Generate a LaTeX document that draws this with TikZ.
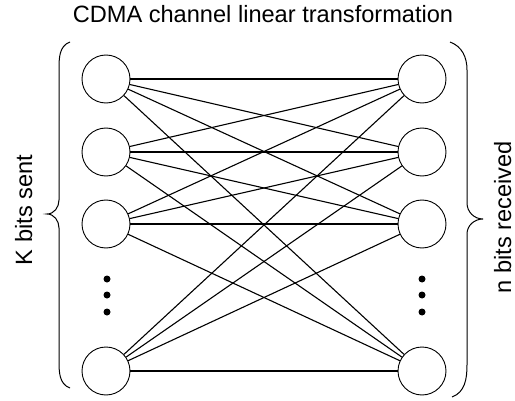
\documentclass[tikz,border=0pt]{standalone}
\usepackage{fontspec}
\setmainfont{Liberation Sans}
\begin{document}
\begin{tikzpicture}[x=1pt,y=1pt,
  bit/.style={circle,draw,line width=0.9pt,minimum size=48pt,inner sep=0pt},
  link/.style={line width=1.1pt},
  dotmark/.style={circle,fill,inner sep=0pt,minimum size=7pt},
  bracepath/.style={line width=1pt},
  lbl/.style={font=\fontsize{23.6}{28}\selectfont}]
\useasboundingbox (0,0) rectangle (515,400);
% nodes
\foreach \i/\y in {1/321,2/248,3/176,4/29} {
  \node[bit] (L\i) at (106,\y) {};
  \node[bit] (R\i) at (422,\y) {};
}
% connections
\foreach \i in {1,...,4} \foreach \j in {1,...,4} \draw[link] (L\i) -- (R\j);
% vertical ellipsis dots
\node[dotmark] (ld1) at (107,121) {};
\node[dotmark] (ld2) at (107,105) {};
\node[dotmark] (ld3) at (107,88) {};
\node[dotmark] (rd1) at (422,121) {};
\node[dotmark] (rd2) at (422,105) {};
\node[dotmark] (rd3) at (422,88) {};
% braces
\draw[bracepath] (70,358) to[out=200,in=90] (59,330) -- (59,200)
  to[out=-90,in=0] (47,186) to[out=0,in=90] (59,172) -- (59,40)
  to[out=-90,in=160] (70,12);
\draw[bracepath] (450,358) to[out=-20,in=90] (467,330) -- (467,197)
  to[out=-90,in=180] (483,181) to[out=180,in=90] (467,166) -- (467,35)
  to[out=-90,in=20] (452,3);
% labels
\node[lbl,anchor=base] (title) at (263,377) {CDMA channel linear transformation};
\node[lbl,anchor=base,rotate=90] (ksent) at (32,190) {K bits sent};
\node[lbl,anchor=base,rotate=90] (nrecv) at (511,183) {n bits received};
\end{tikzpicture}
\end{document}
